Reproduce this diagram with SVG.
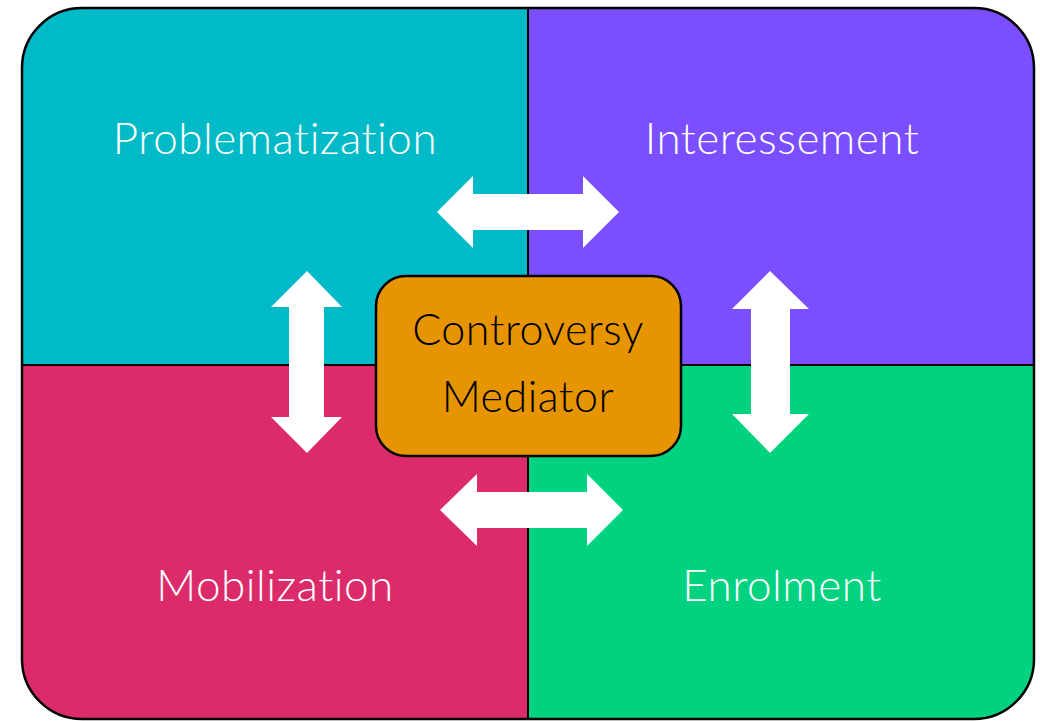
<svg xmlns="http://www.w3.org/2000/svg" width="1040" height="721" viewBox="0 0 1040 721">
<defs>
<style>
.lbl{font-family:Lato,"Open Sans","Liberation Sans",sans-serif;font-size:44px;font-weight:300;fill:#ffffff;text-anchor:middle;font-variant-ligatures:none;letter-spacing:0.5px}
.ctr{font-family:Lato,"Open Sans","Liberation Sans",sans-serif;font-size:43px;font-weight:300;fill:#000000;text-anchor:middle;font-variant-ligatures:none;letter-spacing:0.5px}
.arrow{fill:#ffffff;stroke:none}
.grid{stroke:#000;stroke-width:2;fill:none}
</style>
<clipPath id="outerClip"><rect x="22" y="8" width="1012" height="711" rx="60" ry="60"/></clipPath>
</defs>
<rect width="1040" height="721" fill="#ffffff"/>
<g clip-path="url(#outerClip)">
<g id="problematization"><rect x="22" y="8" width="506" height="357" fill="#00BAC7"/></g>
<g id="interessement"><rect x="528" y="8" width="506" height="357" fill="#7B4FFF"/></g>
<g id="mobilization"><rect x="22" y="365" width="506" height="354" fill="#DB2B6A"/></g>
<g id="enrolment"><rect x="528" y="365" width="506" height="354" fill="#00D27F"/></g>
<line class="grid" x1="528" y1="8" x2="528" y2="719"/>
<line class="grid" x1="22" y1="365" x2="1034" y2="365"/>
</g>
<rect x="22" y="8" width="1012" height="711" rx="60" ry="60" fill="none" stroke="#000" stroke-width="2.5"/>
<text class="lbl" x="275" y="154">Problematization</text>
<text class="lbl" x="782" y="154">Interessement</text>
<text class="lbl" x="275" y="601">Mobilization</text>
<text class="lbl" x="782" y="601">Enrolment</text>
<g id="connectors">
<path class="arrow" d="M437,212 L473,176 L473,194 L583,194 L583,176 L619,212 L583,248 L583,230 L473,230 L473,248 Z"/>
<path class="arrow" d="M440,510 L477,474 L477,492 L587,492 L587,474 L623,510 L587,546 L587,528 L477,528 L477,546 Z"/>
<path class="arrow" d="M307,271 L342,307 L324,307 L324,417 L342,417 L307,453 L271,417 L289,417 L289,307 L271,307 Z"/>
<path class="arrow" d="M770,271 L809,309 L790,309 L790,414 L809,414 L770,453 L732,414 L751,414 L751,309 L732,309 Z"/>
</g>
<g id="mediator">
<rect x="376" y="276" width="305" height="180" rx="30" ry="30" fill="#E69500" stroke="#000" stroke-width="2.5"/>
<text class="ctr" x="528" y="345">Controversy</text>
<text class="ctr" x="528" y="412">Mediator</text>
</g>
</svg>
